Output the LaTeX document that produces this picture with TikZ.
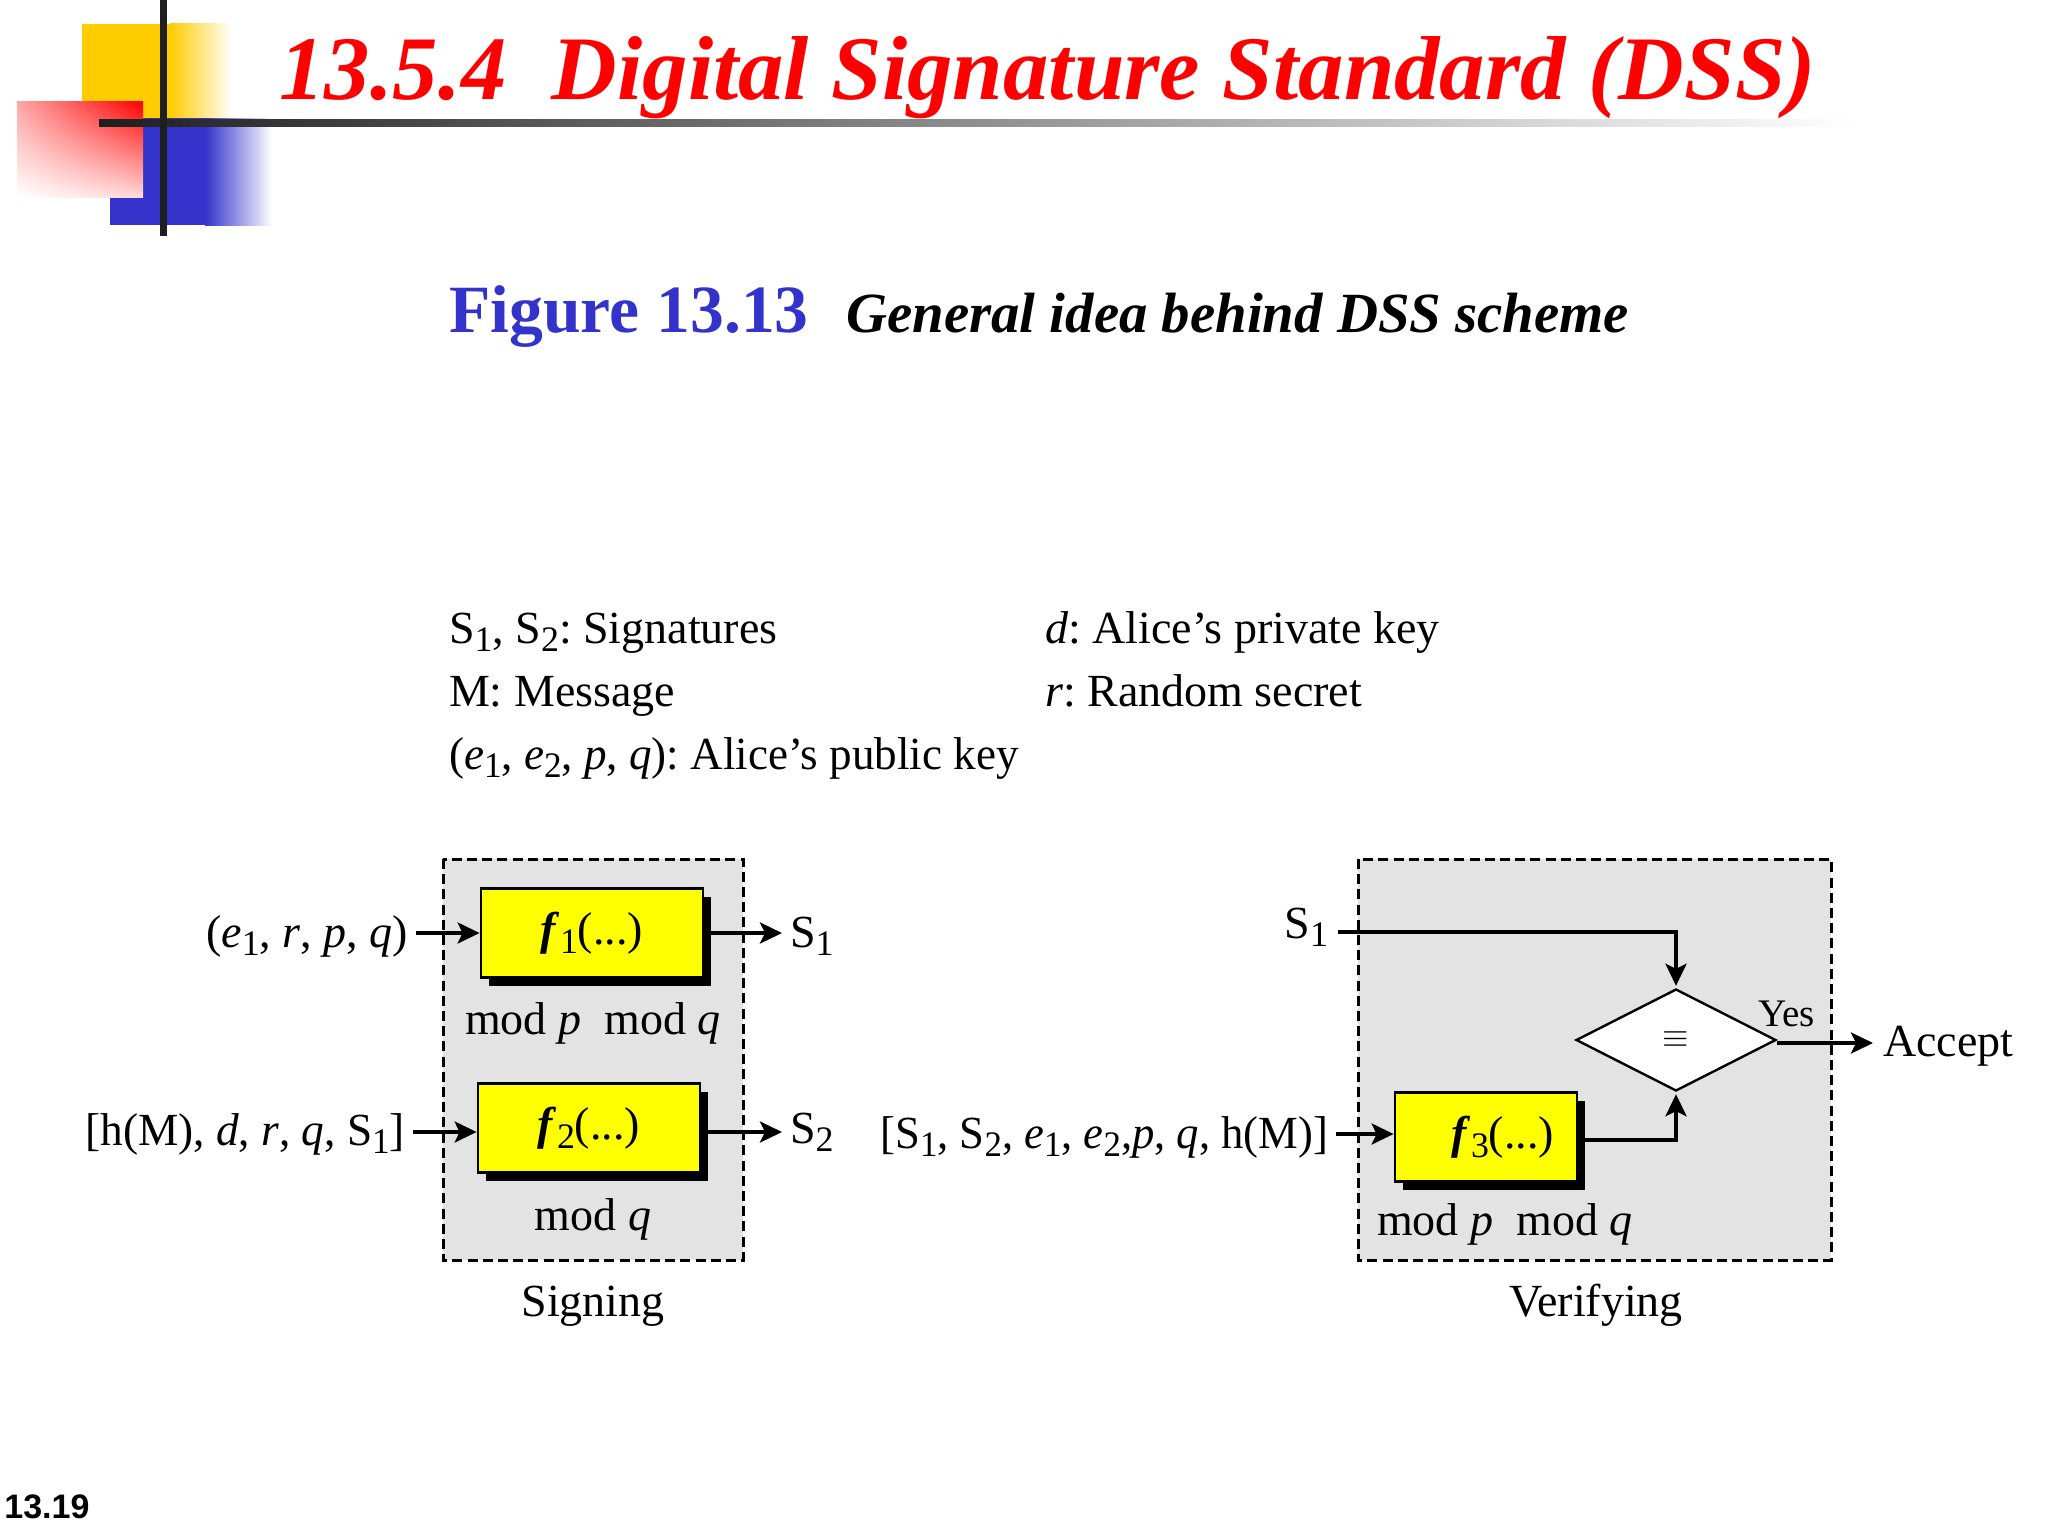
\documentclass[tikz,border=0pt]{standalone}
\usepackage{fontspec}
\usepackage{graphicx}
\setmainfont{Liberation Serif}
\newfontfamily\arialf{Liberation Sans}
\usetikzlibrary{arrows.meta,shapes.geometric,shadows,shadings}
\definecolor{figblue}{HTML}{3333CC}
\definecolor{panel}{HTML}{E3E3E3}
\definecolor{logoy}{HTML}{FFCC00}
\definecolor{barc}{HTML}{1F1F1F}
\definecolor{boxy}{HTML}{FFFF00}
\newcommand{\dn}[1]{\raisebox{-0.42ex}{\scalebox{0.78}{#1}}}
\newcommand{\sz}[1]{\fontsize{#1}{#1}\selectfont}
\newcommand{\ti}[1]{\textit{#1}}
\tikzset{
  lbl/.style={inner sep=0pt,outer sep=0pt,font=\sz{23pt}},
  panelbox/.style={draw=black,fill=panel,line width=1.5pt,dash pattern=on 5pt off 2.6pt},
  fbox/.style={draw=black,fill=boxy,line width=1.4pt,inner sep=0pt,font=\sz{23pt},
    drop shadow={shadow xshift=4.2pt,shadow yshift=-4.2pt,fill=black,opacity=1}},
  cmp/.style={draw=black,fill=white,line width=1.2pt,diamond,inner sep=0pt,aspect=2},
  conn/.style={draw=black,line width=1.9pt,-{Stealth[length=11pt,width=10.5pt,inset=2.5pt]}},
  bar/.style={draw=none,fill=barc},
}
\begin{document}
\frenchspacing
\begin{tikzpicture}[x=0.5pt,y=-0.5pt]
\useasboundingbox (0,0) rectangle (2048,1536);
% logo
\fill[logoy] (82,24) rectangle (170,118);
\shade[left color=logoy,right color=white] (170,24) rectangle (232,118);
\fill[figblue] (110,118) rectangle (205,225);
\shade[left color=figblue,middle color=figblue!45,right color=white] (205,118) rectangle (272,225);
\shade[lower right=red!15,lower left=white,upper left=red!35,upper right=red] (17,102) rectangle (143,197);
\shade[left color=barc,right color=white,draw=none] (99,119.5) rectangle (1855,126.5);
\fill[bar] (159.5,0) rectangle (166.5,236);
% titles
\node[anchor=base west,inner sep=0pt,text=red,font=\sz{45.4pt}\bfseries\itshape] (title) at (279,99) {13.5.4\hspace{0.5em}Digital Signature Standard (DSS)};
\node[anchor=base west,inner sep=0pt,text=figblue,font=\sz{33.8pt}\bfseries] (fig) at (449,332) {Figure 13.13};
\node[anchor=base west,inner sep=0pt,font=\sz{28.4pt}\bfseries\itshape] (sub) at (846,332) {General idea behind DSS scheme};
% legend
\node[lbl,anchor=base west] (l1) at (449,643) {S\dn{1}, S\dn{2}: Signatures};
\node[lbl,anchor=base west] (l2) at (449,706) {M: Message};
\node[lbl,anchor=base west] (l3) at (449,769) {\scalebox{0.98}[1]{(\ti{e}\dn{1}, \ti{e}\dn{2}, \ti{p}, \ti{q}): Alice’s public key}};
\node[lbl,anchor=base west] (l4) at (1045,643) {\ti{d}: Alice’s private key};
\node[lbl,anchor=base west] (l5) at (1045,706) {\ti{r}: Random secret};
% panels
\draw[panelbox] (443,859) rectangle (743,1260);
\draw[panelbox] (1358,859) rectangle (1831,1260);
% function boxes
\node[fbox,minimum width=111pt,minimum height=44.5pt] (f1) at (592,933) {\textbf{\ti{f}}\dn{1}(...)};
\node[fbox,minimum width=111pt,minimum height=44.5pt] (f2) at (589,1128) {\textbf{\ti{f}}\dn{2}(...)};
\node[fbox,minimum width=91pt,minimum height=44.5pt] (f3) at (1486,1137) {\hspace{17pt}\textbf{\ti{f}}\dn{3}(...)};
\node[cmp,minimum width=100pt,minimum height=51pt] (eq) at (1676,1040) {\scalebox{1.7}{$\equiv$}};
% labels
\node[lbl,anchor=base east] (in1) at (408,947) {(\ti{e}\dn{1}, \ti{r}, \ti{p}, \ti{q})};
\node[lbl,anchor=base west] (o1) at (790,947) {S\dn{1}};
\node[lbl,anchor=base west] (m1) at (465,1034) {mod \ti{p}\hspace{0.5em}mod \ti{q}};
\node[lbl,anchor=base east] (in2) at (405,1145) {\scalebox{0.985}[1]{[h(M), \ti{d}, \ti{r}, \ti{q}, S\dn{1}]}};
\node[lbl,anchor=base west] (o2) at (790,1143) {S\dn{2}};
\node[lbl,anchor=base] (m2) at (593,1230) {mod \ti{q}};
\node[lbl,anchor=base] (sg) at (593,1316) {Signing};
\node[lbl,anchor=base east] (s1v) at (1328,938) {S\dn{1}};
\node[lbl,anchor=base west,font=\sz{19.5pt}] (yes) at (1758,1026) {Yes};
\node[lbl,anchor=base west] (acc) at (1883,1056) {Accept};
\node[lbl,anchor=base east] (in3) at (1328,1148) {\scalebox{0.97}[1]{[S\dn{1}, S\dn{2}, \ti{e}\dn{1}, \ti{e}\dn{2},\ti{p}, \ti{q}, h(M)]}};
\node[lbl,anchor=base west] (m3) at (1377,1235) {mod \ti{p}\hspace{0.5em}mod \ti{q}};
\node[lbl,anchor=base] (vf) at (1596,1316) {Verifying};
% connectors
\draw[conn,shorten <=4pt] (in1.east |- f1.west) -- (f1.west);
\draw[conn,shorten >=4pt] (f1.east) -- (f1.east -| o1.west);
\draw[conn,shorten <=4pt] ([yshift=-2pt]in2.east |- f2.west) -- ([yshift=-2pt]f2.west);
\draw[conn,shorten >=4pt] ([yshift=-2pt]f2.east) -- ([yshift=-2pt]f2.east -| o2.west);
\draw[conn,shorten <=4pt] ([yshift=1.5pt]in3.east |- f3.west) -- ([yshift=1.5pt]f3.west);
\draw[conn,shorten <=5pt,shorten >=1pt] (s1v.east |- 0,932) -- (eq.north |- 0,932) -- (eq.north);
\draw[conn,shorten >=1pt] (f3.east) ++(0,3) -| (eq.south);
\draw[conn,shorten >=5pt] ([yshift=-1.5pt]eq.east) -- ([yshift=-1.5pt]eq.east -| acc.west);
\node[anchor=base west,inner sep=0pt,font=\arialf\bfseries\sz{17pt}] (pg) at (4,1518) {13.19};
\end{tikzpicture}
\end{document}
